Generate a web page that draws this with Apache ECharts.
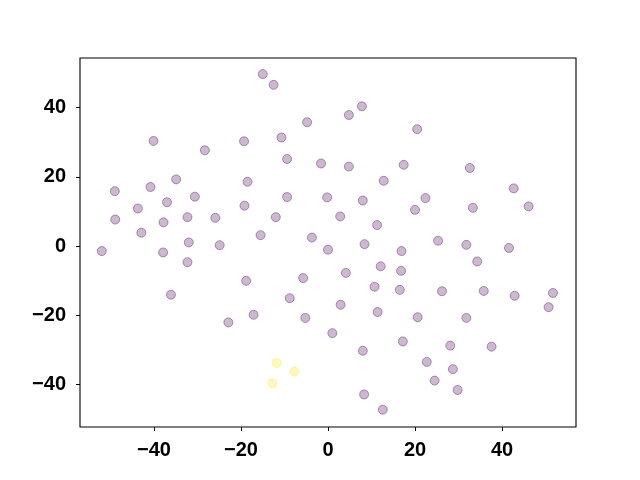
<!DOCTYPE html>
<html>
<head>
<meta charset="utf-8">
<script src="https://cdn.jsdelivr.net/npm/echarts@6/dist/echarts.min.js"></script>
<style>html,body{margin:0;padding:0;background:#fff}#c{width:640px;height:480px}</style>
</head>
<body>
<div id="c"></div>
<script>
const tickValues = [-40, -20, 0, 20, 40];
const purpleX = [-15.0,-12.5,-4.8,-40.1,-19.3,-10.7,-28.3,-9.4,-1.6,-34.9,-18.5,-49.0,-40.8,-30.6,-9.4,-0.2,-43.7,-37.0,-19.2,-48.9,-37.8,-32.3,-25.9,-12.0,-42.9,-32.0,-24.9,-15.5,-3.7,-52.0,-37.9,0.0,
  7.8,4.8,20.5,4.8,17.4,32.6,12.8,42.7,8.0,22.4,20.0,33.3,46.1,2.8,11.3,8.4,16.9,25.3,31.8,41.6,
  34.3,4.1,12.1,16.8,10.7,16.5,26.2,35.8,42.9,51.7,50.7,2.9,11.4,20.6,31.8,1.0,17.2,8.0,28.1,37.6,22.7,28.7,24.5,29.8,8.3,12.6,
  -32.3,-18.8,-5.7,-36.1,-8.8,-17.1,-5.2,-22.9];
const purpleY = [49.7,46.6,35.8,30.4,30.3,31.4,27.7,25.2,23.9,19.3,18.6,15.9,17.1,14.3,14.2,14.1,10.9,12.7,11.7,7.7,6.9,8.4,8.2,8.4,3.9,1.1,0.3,3.2,2.5,-1.4,-1.8,-1.0,
  40.4,37.9,33.8,23.0,23.5,22.6,18.9,16.7,13.2,13.9,10.5,11.1,11.5,8.6,6.1,0.6,-1.4,1.6,0.4,-0.5,
  -4.4,-7.7,-5.8,-7.1,-11.7,-12.6,-13.0,-12.9,-14.3,-13.5,-17.6,-16.9,-19.0,-20.5,-20.7,-25.1,-27.5,-30.2,-28.7,-29.0,-33.4,-35.5,-38.8,-41.5,-42.8,-47.2,
  -4.6,-10.0,-9.2,-14.0,-15.0,-19.8,-20.7,-22.0];
const yellowX = [-11.8,-7.7,-12.8];
const yellowY = [-33.7,-36.2,-39.6];

const zip = (xs, ys) => xs.map((x, i) => [x, ys[i]]);
const fmt = v => String(v).replace('-', '\u2212');
const labelStyle = {color:'#000', fontFamily:'Liberation Sans', fontWeight:'bold', fontSize:20, formatter: fmt, customValues: tickValues};

const chart = echarts.init(document.getElementById('c'), null, {renderer:'canvas'});
chart.setOption({
  animation: false,
  backgroundColor: '#fff',
  grid: {left:80, right:64, top:58, bottom:53, show:true, borderColor:'#000', borderWidth:1.1, backgroundColor:'transparent'},
  xAxis: {
    type:'value', min:-57, max:57,
    axisLine:{show:false, onZero:false},
    splitLine:{show:false},
    axisTick:{show:true, inside:false, length:4, lineStyle:{color:'#000', width:1}, customValues: tickValues},
    axisLabel:Object.assign({margin:13}, labelStyle)
  },
  yAxis: {
    type:'value', min:-52.2, max:54.35,
    axisLine:{show:false, onZero:false},
    splitLine:{show:false},
    axisTick:{show:true, inside:false, length:4, lineStyle:{color:'#000', width:1}, customValues: tickValues},
    axisLabel:Object.assign({margin:14}, labelStyle)
  },
  series: [
    {type:'scatter', data: zip(purpleX, purpleY), symbolSize:9,
     itemStyle:{color:'rgba(68,1,84,0.34)', borderColor:'rgba(68,1,84,0.48)', borderWidth:1}},
    {type:'scatter', data: zip(yellowX, yellowY), symbolSize:9,
     itemStyle:{color:'rgba(253,231,37,0.36)', borderColor:'rgba(253,231,37,0.5)', borderWidth:1}}
  ]
});
</script>
</body>
</html>
